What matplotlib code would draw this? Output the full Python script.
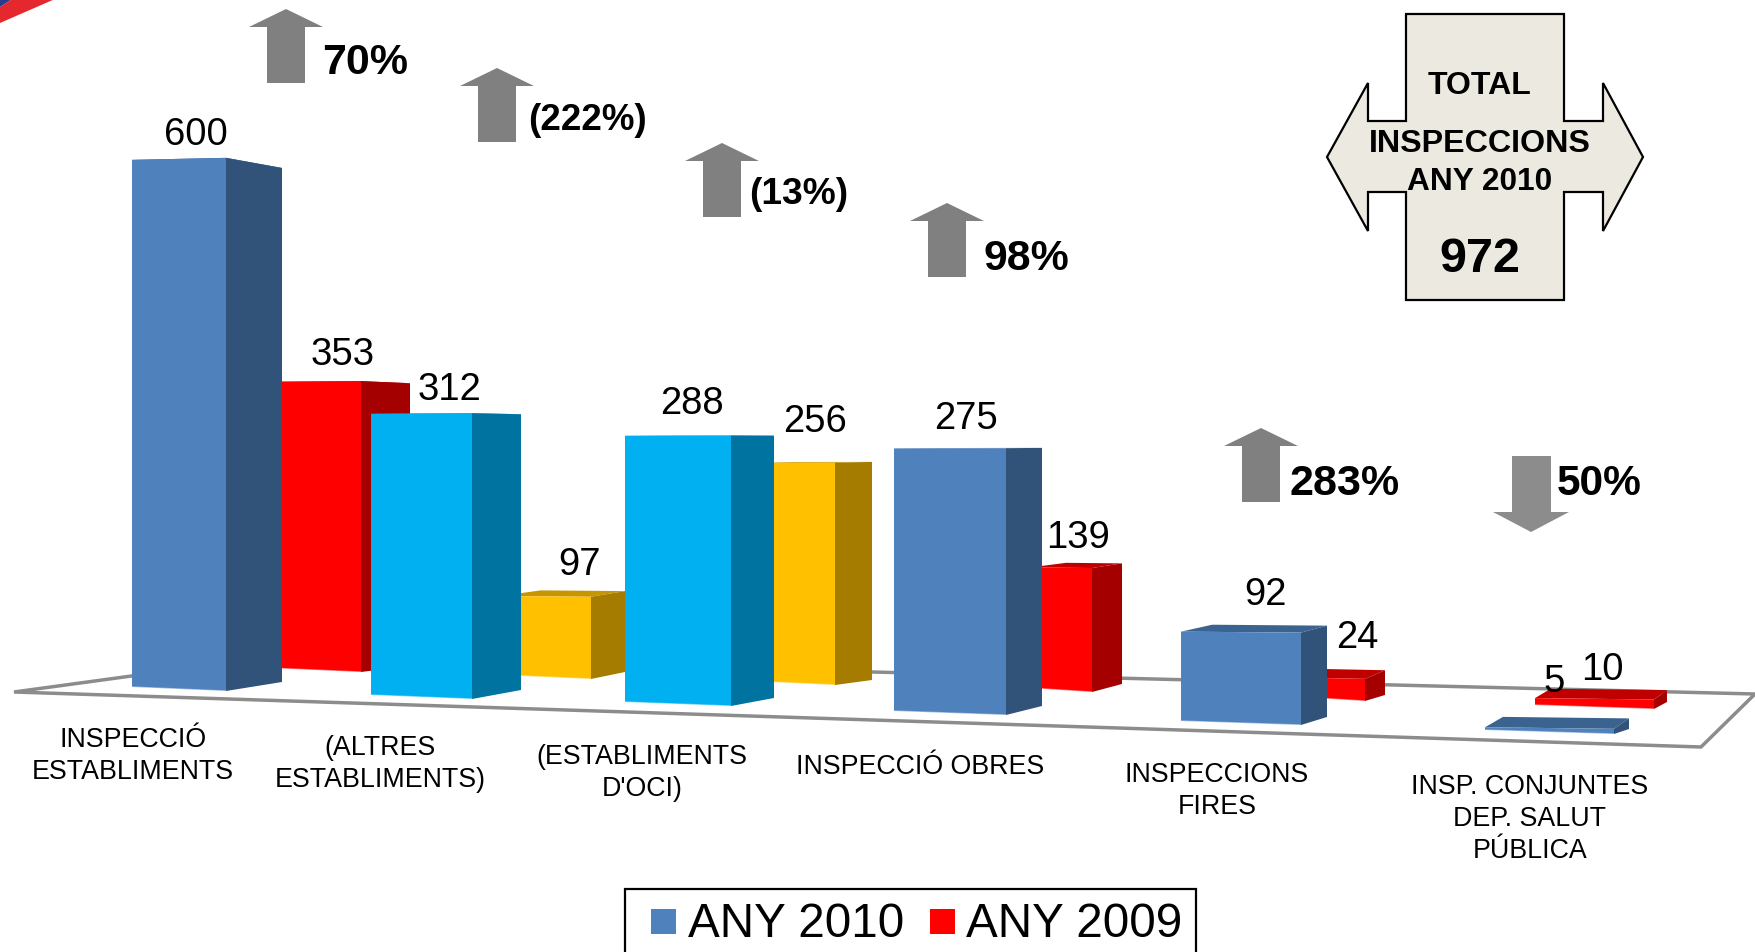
import matplotlib
matplotlib.use("Agg")
import matplotlib.pyplot as plt
from matplotlib.patches import Polygon, Rectangle

plt.rcParams['font.family'] = ['Liberation Sans', 'DejaVu Sans']

categories = ["INSPECCIÓ\nESTABLIMENTS", "(ALTRES\nESTABLIMENTS)", "(ESTABLIMENTS\nD'OCI)",
              "INSPECCIÓ OBRES", "INSPECCIONS\nFIRES", "INSP. CONJUNTES\nDEP. SALUT\nPÚBLICA"]
any_2010 = [600, 312, 288, 275, 92, 5]
any_2009 = [353, 97, 256, 139, 24, 10]
changes = ["70%", "(222%)", "(13%)", "98%", "283%", "50%"]
total_2010 = 972

# colours per bar: face, side, top
blue = ("#4f81bd", "#325379", "#3b6390")
red = ("#ff0000", "#a50000", "#c00000")
cyan = ("#00b0f0", "#0073a0", "#0088bb")
yellow = ("#ffc000", "#a67c00", "#c79500")
colors_2010 = [blue, cyan, cyan, blue, blue, blue]
colors_2009 = [red, yellow, yellow, red, red, red]

# faux 3d placement in pixels: x left, x front corner, x back, y front base, y back base
geom_2010 = [(132, 226, 282, 692, 683), (371, 472, 521, 700, 691), (625, 731, 774, 707, 699),
             (894, 1006, 1042, 716, 707), (1181, 1301, 1327, 726, 718), (1485, 1614, 1629, 735, 730)]
geom_2009 = [(270, 361, 410, 673, 667), (500, 591, 625, 680, 673), (750, 835, 872, 686, 681),
             (1030, 1092, 1122, 693, 685), (1300, 1365, 1385, 702, 696), (1535, 1654, 1667, 710, 703)]

label_xy_2010 = [(196, 135), (449, 390), (692, 404), (966, 419), (1265, 595), (1554, 682)]
label_xy_2009 = [(343, 355), (580, 565), (815, 422), (1078, 538), (1357, 638), (1602, 670)]
cat_xy = [(133, 756), (380, 764), (642, 773), (920, 767), (1217, 791), (1530, 819)]
arrow_xy = [(286, 10), (497, 69), (722, 144), (947, 204), (1261, 429), (1531, 457)]
change_xy = [(322, 63, 31), (528, 120, 26.5), (749, 195, 26.7), (984, 259, 30.8), (1290, 484, 31), (1557, 484, 30.6)]
change_up = [True, True, True, True, True, False]


def depth_scale(y):
    # bars nearer the viewer are drawn taller per unit
    return 0.824 + (y - 673) * 0.0034


def draw_bar(ax, value, geom, cols):
    x0, x1, x2, y_base, y_back = geom
    top_c = y_base - value * depth_scale(y_base)
    top_l = top_c - 0.0063 * (top_c - 480)
    top_back = top_c - 0.036 * (top_c - 440)
    top_back_l = top_l - 0.036 * (top_l - 440)
    ax.add_patch(Polygon([(x0, top_l), (x1, top_c), (x2, top_back), (x0 + 1.2 * (x2 - x1), top_back_l)],
                         fc=cols[2], ec="none"))
    ax.add_patch(Polygon([(x0, y_base - 4), (x1, y_base), (x1, top_c), (x0, top_l)], fc=cols[0], ec="none"))
    ax.add_patch(Polygon([(x1, y_base), (x2, y_back), (x2, top_back), (x1, top_c)], fc=cols[1], ec="none"))
    # thin light edge along the bottom of the face, same zorder as the patches
    ax.plot([x0, x1], [y_base - 4, y_base], color="white", alpha=0.45, lw=1, solid_capstyle="butt", zorder=1)


def draw_arrow(ax, cx, y0, up):
    # block arrow, y0 is the highest point
    if up:
        s = [(0, 0), (37, 18), (19, 18), (19, 74), (-19, 74), (-19, 18), (-37, 18)]
        pts = [(cx + a, y0 + b) for a, b in s]
        col = "#808080"
    else:
        s = [(0, 0), (38, 20), (20, 20), (20, 76), (-19, 76), (-19, 20), (-38, 20)]
        pts = [(cx + a, y0 + 76 - b) for a, b in s]
        col = "#8c8c8c"
    ax.add_patch(Polygon(pts, fc=col, ec="none"))


fig = plt.figure(figsize=(17.55, 9.53), dpi=100)
ax = fig.add_axes([0, 0, 1, 1])
ax.set_xlim(0, 1755)
ax.set_ylim(953, 0)
ax.axis("off")

# corner swoosh
ax.add_patch(Polygon([(0, 24), (55, 0), (12, 0), (0, 8)], fc="#e5282e", ec="none"))
ax.add_patch(Polygon([(0, 0), (12, 0), (0, 8)], fc="#2b3a8c", ec="none"))

# floor
ax.add_patch(Polygon([(14, 693), (271, 658), (1755, 695), (1701, 748)], fc="white", ec="#8c8c8c", lw=2.5))

for v, g, c in zip(any_2009, geom_2009, colors_2009):
    draw_bar(ax, v, g, c)
for v, g, c in zip(any_2010, geom_2010, colors_2010):
    draw_bar(ax, v, g, c)

for v, (x, y) in zip(any_2010, label_xy_2010):
    ax.text(x, y, str(v), fontsize=27.5, ha="center", va="center", color="black")
for v, (x, y) in zip(any_2009, label_xy_2009):
    ax.text(x, y, str(v), fontsize=27.5, ha="center", va="center", color="black")

for cat, (x, y) in zip(categories, cat_xy):
    ax.text(x, y, cat, fontsize=19.3, ha="center", va="center", linespacing=1.29, color="black")

for (x, y), up in zip(arrow_xy, change_up):
    draw_arrow(ax, x, y, up)
for txt, (x, y, fs) in zip(changes, change_xy):
    ax.text(x, y, txt, fontsize=fs, fontweight="bold", ha="left", va="center", color="black")

# total callout
ax.add_patch(Polygon([(1327, 158), (1368, 84), (1368, 122), (1406, 122), (1406, 15), (1564, 15), (1564, 122),
                      (1603, 122), (1603, 84), (1643, 158), (1603, 232), (1603, 193), (1564, 193), (1564, 301),
                      (1406, 301), (1406, 193), (1368, 193), (1368, 232)],
                     fc="#eceae0", ec="black", lw=1.6, joinstyle="miter"))
ax.text(1480, 86, "TOTAL", fontsize=23, fontweight="bold", ha="center", va="center")
ax.text(1480, 144, "INSPECCIONS", fontsize=23.2, fontweight="bold", ha="center", va="center")
ax.text(1480, 182, "ANY 2010", fontsize=22.8, fontweight="bold", ha="center", va="center")
ax.text(1480, 260, str(total_2010), fontsize=35, fontweight="bold", ha="center", va="center")

# legend box runs off the bottom
ax.add_patch(Rectangle((625, 890), 571, 80, fc="white", ec="black", lw=1.6, clip_on=True))
ax.add_patch(Rectangle((651, 910), 25, 25, fc=blue[0], ec="none"))
ax.add_patch(Rectangle((930, 910), 25, 25, fc=red[0], ec="none"))
ax.text(688, 925, "ANY 2010", fontsize=34.3, ha="left", va="center")
ax.text(966, 925, "ANY 2009", fontsize=34.3, ha="left", va="center")

fig.savefig("out.png", dpi=100)
